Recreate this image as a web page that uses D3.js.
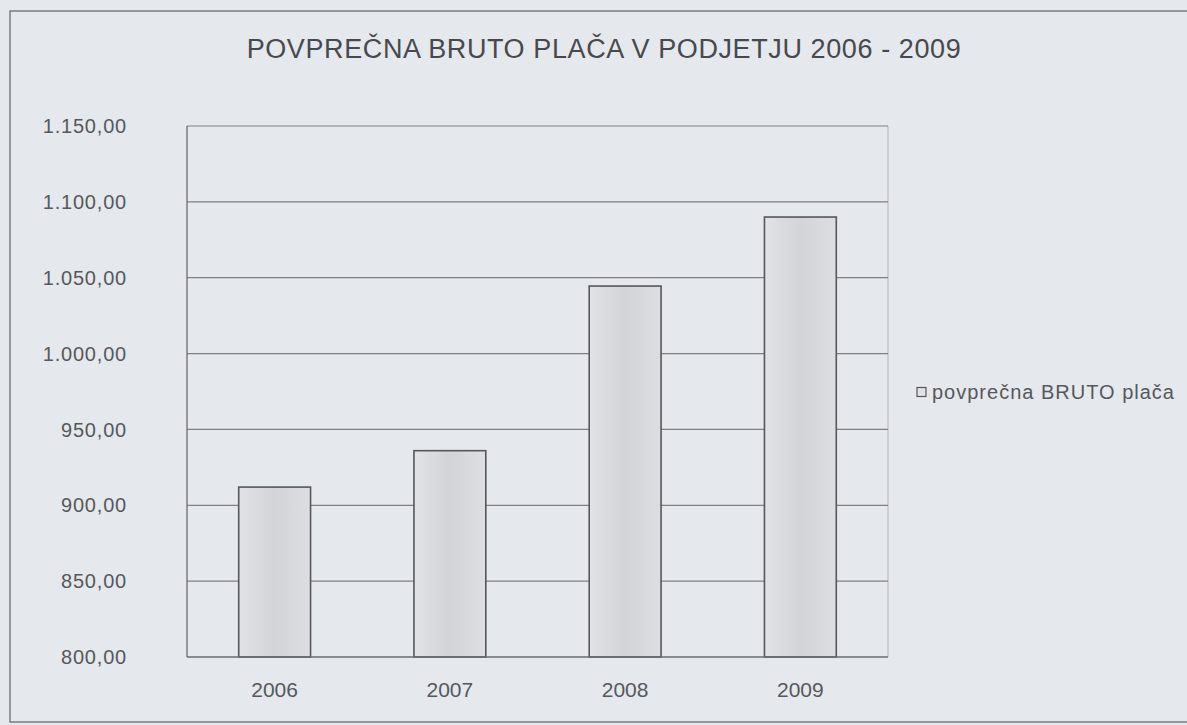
<!DOCTYPE html>
<html>
<head>
<meta charset="utf-8">
<script src="https://cdn.jsdelivr.net/npm/d3@7"></script>
<style>
    html, body { margin: 0; padding: 0; background: #e5e8ed; }
    svg text { font-family: "Liberation Sans", Arial, sans-serif; fill: #56585c; }
</style>
</head>
<body>
<svg id="chart"></svg>
<script>
/* =====
   DATA
==== */

const years = ["2006", "2007", "2008", "2009"];
const salaries = [912, 936, 1044.5, 1090];
const yTicks = [800, 850, 900, 950, 1000, 1050, 1100, 1150];
const chartTitle = "POVPREČNA BRUTO PLAČA V PODJETJU 2006 - 2009";
const seriesName = "povprečna BRUTO plača";


/* =====
   SVG SETUP
==== */

const width = 1187;
const height = 725;
const margin = { top: 126, right: 299, bottom: 68, left: 187 };

const svg = d3.select("#chart")
    .attr("width", width)
    .attr("height", height);

// page background
svg.append("rect")
    .attr("width", width)
    .attr("height", height)
    .attr("fill", "#e5e8ed");

// outer frame of the chart object
svg.append("rect")
    .attr("x", 10)
    .attr("y", 11)
    .attr("width", 1200)
    .attr("height", 711)
    .attr("fill", "none")
    .attr("stroke", "#6a6c70")
    .attr("stroke-width", 1.3);

// bar shading (slightly darker in the middle)
const grad = svg.append("defs").append("linearGradient")
    .attr("id", "barFill")
    .attr("x1", "0%").attr("x2", "100%")
    .attr("y1", "0%").attr("y2", "0%");
grad.append("stop").attr("offset", "0%").attr("stop-color", "#e0e2e5");
grad.append("stop").attr("offset", "50%").attr("stop-color", "#d2d4d7");
grad.append("stop").attr("offset", "100%").attr("stop-color", "#dcdee1");


/* =====
   SCALES
==== */

const x = d3.scaleBand()
    .domain(years)
    .range([margin.left, width - margin.right])
    .paddingInner(0.59)
    .paddingOuter(0.295);

const y = d3.scaleLinear()
    .domain([800, 1150])
    .range([height - margin.bottom, margin.top]);

const si = d3.formatLocale({ decimal: ",", thousands: ".", grouping: [3], currency: ["", ""] });
const fmt = si.format(",.2f");


/* =====
   PLOT AREA & GRID
==== */

const plotRight = width - margin.right;
const plotBottom = height - margin.bottom;

// right edge of plot area (light)
svg.append("line")
    .attr("x1", plotRight).attr("x2", plotRight)
    .attr("y1", margin.top).attr("y2", plotBottom)
    .attr("stroke", "#b4b7bb")
    .attr("stroke-width", 1);

svg.append("g")
    .selectAll("line")
    .data(yTicks.filter(t => t > 800))
    .enter()
    .append("line")
    .attr("x1", margin.left)
    .attr("x2", plotRight)
    .attr("y1", d => y(d))
    .attr("y2", d => y(d))
    .attr("stroke", "#7e8084")
    .attr("stroke-width", 1.2);

// y axis labels
svg.append("g")
    .selectAll("text")
    .data(yTicks)
    .enter()
    .append("text")
    .attr("x", 127)
    .attr("y", d => y(d))
    .attr("dy", "0.36em")
    .attr("text-anchor", "end")
    .style("font-size", "20px")
    .style("letter-spacing", "0.8px")
    .text(d => fmt(d));


/* =====
   BARS
==== */

svg.append("g")
    .selectAll("rect")
    .data(years.map((yr, i) => ({ year: yr, value: salaries[i] })))
    .enter()
    .append("rect")
    .attr("x", d => x(d.year))
    .attr("y", d => y(d.value))
    .attr("width", x.bandwidth())
    .attr("height", d => y(800) - y(d.value))
    .attr("fill", "url(#barFill)")
    .attr("stroke", "#55575b")
    .attr("stroke-width", 1.6);

// axes lines
svg.append("line")
    .attr("x1", margin.left).attr("x2", margin.left)
    .attr("y1", margin.top).attr("y2", plotBottom)
    .attr("stroke", "#6a6c70")
    .attr("stroke-width", 1.3);

svg.append("line")
    .attr("x1", margin.left).attr("x2", plotRight)
    .attr("y1", plotBottom).attr("y2", plotBottom)
    .attr("stroke", "#6a6c70")
    .attr("stroke-width", 1.3);

// x axis labels
svg.append("g")
    .selectAll("text")
    .data(years)
    .enter()
    .append("text")
    .attr("x", d => x(d) + x.bandwidth() / 2)
    .attr("y", plotBottom + 40)
    .attr("text-anchor", "middle")
    .style("font-size", "21px")
    .text(d => d);


/* =====
   TITLE & LEGEND
==== */

svg.append("text")
    .attr("x", 604)
    .attr("y", 58)
    .attr("text-anchor", "middle")
    .style("font-size", "27px")
    .style("letter-spacing", "0.6px")
    .style("fill", "#48494d")
    .text(chartTitle);

const legend = svg.append("g")
    .attr("transform", `translate(917, ${(margin.top + plotBottom) / 2})`);

legend.append("rect")
    .attr("x", 0)
    .attr("y", -4)
    .attr("width", 9)
    .attr("height", 9)
    .attr("fill", "#e0e2e5")
    .attr("stroke", "#55575b")
    .attr("stroke-width", 1.2);

legend.append("text")
    .attr("x", 15)
    .attr("y", 0)
    .attr("dy", "0.36em")
    .style("font-size", "20px")
    .style("letter-spacing", "1px")
    .text(seriesName);
</script>
</body>
</html>
